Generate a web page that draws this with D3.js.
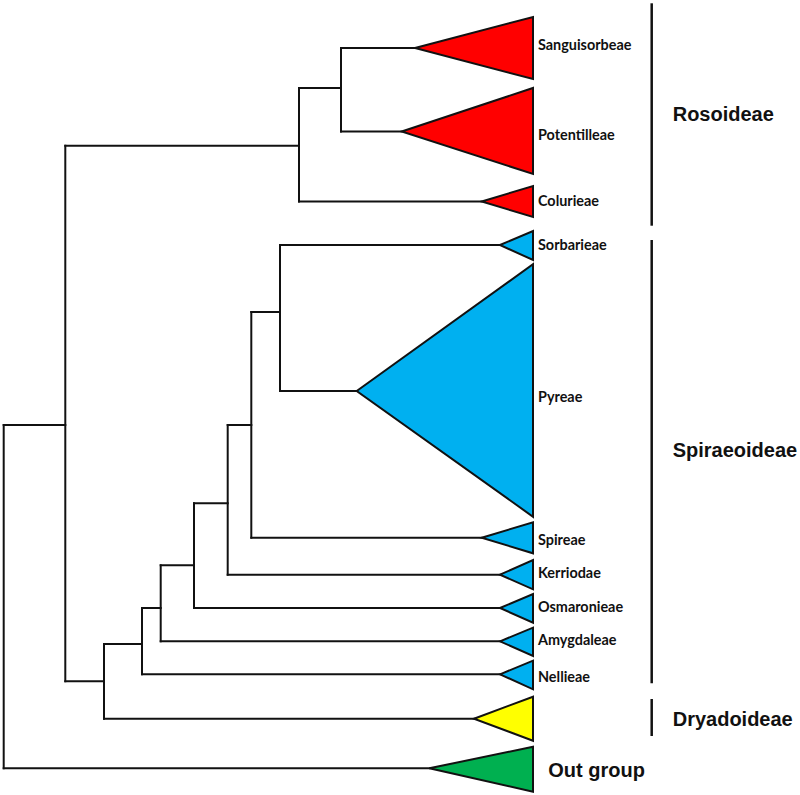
<!DOCTYPE html>
<html>
<head>
<meta charset="utf-8">
<script src="https://cdn.jsdelivr.net/npm/d3@7"></script>
<style>
  html, body { margin: 0; padding: 0; background: #fff; }
  svg { display: block; }
</style>
</head>
<body>
<svg id="chart" width="800" height="795"></svg>
<script>
// ---- Tips (collapsed clades) ----
const tipNames   = ["Sanguisorbeae","Potentilleae","Colurieae","Sorbarieae","Pyreae","Spireae","Kerriodae","Osmaronieae","Amygdaleae","Nellieae","Dryadoideae","Out group"];
const tipLabels  = ["Sanguisorbeae","Potentilleae","Colurieae","Sorbarieae","Pyreae","Spireae","Kerriodae","Osmaronieae","Amygdaleae","Nellieae","",""];
const tipColors  = ["#FF0000","#FF0000","#FF0000","#00B0F0","#00B0F0","#00B0F0","#00B0F0","#00B0F0","#00B0F0","#00B0F0","#FFFF00","#00B050"];
const tipY       = [48, 131.5, 201.5, 245, 391, 537.7, 574.7, 608, 641.3, 674.3, 718.7, 768.3];   // row position of the tip
const tipDepth   = [411.3, 398, 478, 496.3, 353, 478, 496.3, 496.3, 496.3, 496.3, 470.3, 425.6]; // distance of clade crown from root
const tipTop     = [17, 88, 186, 231, 264.3, 522.3, 560, 594, 627.7, 660.7, 696.7, 746.7];      // clade extent (upper)
const tipBottom  = [79, 174, 217, 260, 516.7, 553.3, 589.3, 622.7, 656, 689.3, 740.7, 791.7];   // clade extent (lower)
const tipLabelY  = [44, 134, 200.3, 244, 396.7, 539, 572.7, 606.7, 639, 676.7, 0, 0];
const cladeTipDepth = 529.3; // all clades extend to the same tip depth

// ---- Internal nodes ----
const nodeNames    = ["SangPot","Rosoideae","SorbPyr","Spir","Kerr","Osm","Amyg","Nell","Dry","Ingroup","Root"];
const nodeDepth    = [337.3, 295.3, 276.3, 247.6, 224, 190.3, 157, 138.3, 100.3, 61.6, 0];
const nodeY        = [88, 145.7, 312, 425, 503.3, 565.3, 608, 644, 681.3, 425, 596];
const nodeChildren = [
  ["Sanguisorbeae","Potentilleae"],
  ["SangPot","Colurieae"],
  ["Sorbarieae","Pyreae"],
  ["SorbPyr","Spireae"],
  ["Spir","Kerriodae"],
  ["Kerr","Osmaronieae"],
  ["Osm","Amygdaleae"],
  ["Amyg","Nellieae"],
  ["Nell","Dryadoideae"],
  ["Rosoideae","Dry"],
  ["Ingroup","Out group"]
];

// ---- Subfamily brackets ----
const groupNames  = ["Rosoideae","Spiraeoideae","Dryadoideae"];
const groupTop    = [3.3, 240, 699];
const groupBottom = [225.7, 683.3, 736];
const groupLabelY = [114.3, 450, 719.3];
const outLabel = "Out group";
const outLabelY = 770;

// ---- Scales ----
const x = d3.scaleLinear().domain([0, 529.3]).range([3.7, 533]);
const y = d3.scaleLinear().domain([0, 795]).range([0, 795]);

const svg = d3.select("#chart");

// lookup of position for any node name
const pos = {};
tipNames.forEach((n, i) => pos[n] = {depth: tipDepth[i], y: tipY[i]});
nodeNames.forEach((n, i) => pos[n] = {depth: nodeDepth[i], y: nodeY[i]});

// build segments
const segs = [];
nodeNames.forEach((n, i) => {
  const ch = nodeChildren[i].map(c => pos[c]);
  const ys = ch.map(c => c.y);
  segs.push({x1: nodeDepth[i], y1: d3.min(ys), x2: nodeDepth[i], y2: d3.max(ys)});
  ch.forEach(c => segs.push({x1: nodeDepth[i], y1: c.y, x2: c.depth, y2: c.y}));
});

const treeG = svg.append("g");
treeG.selectAll("line.branch").data(segs).join("line")
  .attr("class", "branch")
  .attr("x1", d => x(d.x1)).attr("y1", d => y(d.y1))
  .attr("x2", d => x(d.x2)).attr("y2", d => y(d.y2))
  .attr("stroke", "#111").attr("stroke-width", 2).attr("stroke-linecap", "square");

// triangles
const tri = tipNames.map((n, i) => ({n, i}));
svg.append("g").selectAll("polygon").data(tri).join("polygon")
  .attr("points", d => [
      [x(tipDepth[d.i]), y(tipY[d.i])],
      [x(cladeTipDepth), y(tipTop[d.i])],
      [x(cladeTipDepth), y(tipBottom[d.i])]
    ].map(p => p.join(",")).join(" "))
  .attr("fill", d => tipColors[d.i])
  .attr("stroke", "#111").attr("stroke-width", 2).attr("stroke-linejoin", "miter");

// tip labels
svg.append("g").selectAll("text").data(tri.filter(d => tipLabels[d.i] !== "")).join("text")
  .attr("x", x(cladeTipDepth) + 5)
  .attr("y", d => y(tipLabelY[d.i]))
  .attr("dominant-baseline", "central")
  .attr("font-family", "Lato, 'Open Sans', sans-serif")
  .attr("font-weight", "bold")
  .attr("font-size", 14.4)
  .attr("fill", "#111")
  .text(d => tipLabels[d.i]);

// group brackets
const groups = groupNames.map((g, i) => ({g, i}));
const bx = 651.7;
svg.append("g").selectAll("line").data(groups).join("line")
  .attr("x1", bx).attr("x2", bx)
  .attr("y1", d => y(groupTop[d.i])).attr("y2", d => y(groupBottom[d.i]))
  .attr("stroke", "#111").attr("stroke-width", 2.5);

svg.append("g").selectAll("text").data(groups).join("text")
  .attr("x", bx + 21)
  .attr("y", d => y(groupLabelY[d.i]))
  .attr("dominant-baseline", "central")
  .attr("font-family", "'Liberation Sans', Arial, sans-serif")
  .attr("font-weight", "bold")
  .attr("font-size", 20)
  .attr("fill", "#111")
  .text(d => d.g);

svg.append("text")
  .attr("x", 548.3)
  .attr("y", y(outLabelY))
  .attr("dominant-baseline", "central")
  .attr("font-family", "'Liberation Sans', Arial, sans-serif")
  .attr("font-weight", "bold")
  .attr("font-size", 20)
  .attr("fill", "#111")
  .text(outLabel);
</script>
</body>
</html>
